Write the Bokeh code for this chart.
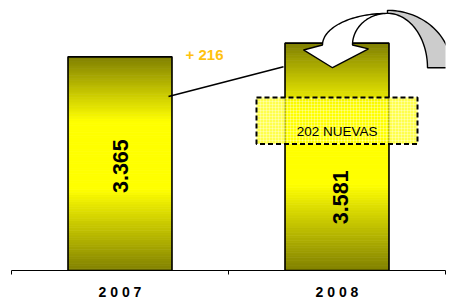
import numpy as np
from bokeh.plotting import figure
from bokeh.models import Range1d, FixedTicker
from bokeh.core.properties import value
from bokeh.embed import file_html
from bokeh.resources import INLINE

# ---- data ----
years = ["2007", "2008"]
year_labels = ["2 0 0 7", "2 0 0 8"]
totals = [3365, 3581]
total_labels = ["3.365", "3.581"]
increase_label = "+ 216"
new_label = "202 NUEVAS"

FONT = "Liberation Sans"
OLIVE = np.array([128, 128, 0])
YELLOW = np.array([255, 255, 0])

p = figure(width=451, height=302, output_backend="svg", toolbar_location=None,
           x_range=Range1d(0, 2), y_range=Range1d(0, 4253),
           y_axis_location=None, min_border_left=11, min_border_right=6,
           min_border_top=0, min_border_bottom=29, outline_line_color=None)
p.grid.visible = False
p.background_fill_color = "white"
p.border_fill_color = "white"

centers = [i + 0.5 for i in range(len(years))]
bw = 0.479

# gradient bars (dark - light - dark) from stacked strips
N = 90
L, R, B, T, C = [], [], [], [], []
for cx, v in zip(centers, totals):
    for i in range(N):
        t = (i + 0.5) / N
        if t < 0.38:
            f = t / 0.38
        elif t > 0.70:
            f = (1 - t) / 0.30
        else:
            f = 1.0
        f = max(0.0, min(1.0, f))
        col = OLIVE + (YELLOW - OLIVE) * f
        L.append(cx - bw / 2); R.append(cx + bw / 2)
        B.append(v * i / N); T.append(v * (i + 1) / N)
        C.append("#%02x%02x%02x" % tuple(int(round(c)) for c in col))
p.quad(left=L, right=R, bottom=B, top=T, fill_color=C, line_color=C, line_width=0.8)
p.quad(left=[c - bw / 2 for c in centers], right=[c + bw / 2 for c in centers],
       bottom=[0, 0], top=totals, fill_color=None, line_color="black", line_width=1.6)

# connector line between bars
p.segment(x0=[centers[0] + 0.2235], y0=[totals[0] * 0.8148],
          x1=[centers[1] - 0.2465], y1=[totals[1] * 0.8962],
          line_color="black", line_width=1.6)

# increase label
p.text(x=[0.8894], y=[3396], text=[increase_label], text_color="#ffc20e",
       text_font=value(FONT), text_font_style="bold", text_font_size="15px",
       text_align="center", text_baseline="middle")

# dashed "new" box
p.quad(left=[centers[1] - 0.371], right=[centers[1] + 0.371], bottom=[1994], top=[2726],
       fill_color="#ffff00", fill_alpha=0.7, line_color="black", line_width=2,
       line_dash="5 3", hatch_pattern="+", hatch_color="white", hatch_alpha=0.3,
       hatch_scale=3)
p.text(x=[1.5009], y=[2186], text=[new_label], text_color="black",
       text_font=value(FONT), text_font_size="13.5px",
       text_align="center", text_baseline="middle")

# bar value labels (rotated)
p.text(x=[0.5037, 1.5161], y=[1644, 1153], text=total_labels, angle=np.pi / 2,
       text_color="black", text_font=value(FONT), text_font_style="bold",
       text_font_size="21.5px", text_align="center", text_baseline="middle")

# curved arrow (gray back + white front)
xs, ys = 1.0 / 217, 1.0 / 0.06419  # data units per pixel
cxa = 1.7327
a = np.linspace(np.pi / 2, 0, 40)
gx = np.concatenate([cxa + 64 * xs * np.cos(a), cxa + 40 * xs * np.cos(a[::-1])])
gy = np.concatenate([3194 + 58 * ys * np.sin(a), 3194 + 55 * ys * np.sin(a[::-1])])
p.patch(gx, gy, fill_color="#cccccc", line_color="black", line_width=1.4)

b = np.linspace(np.pi / 2, np.pi, 40)
wx = list(cxa + 65 * xs * np.cos(b)) + [1.3456, 1.4793, 1.6452] + list(cxa + 35 * xs * np.cos(b[::-1]))
wy = list(3552 + 32 * ys * np.sin(b)) + [3474, 3194, 3490] + list(3552 + 32 * ys * np.sin(b[::-1]))
p.patch(wx, wy, fill_color="white", line_color="black", line_width=1.4)

# x axis: boundary ticks as minor ticks, year labels at centers
ax = p.xaxis[0]
ax.ticker = FixedTicker(ticks=centers, minor_ticks=[0, 1, 2])
ax.major_label_overrides = {c: lab for c, lab in zip(centers, year_labels)}
ax.major_tick_out = 0
ax.major_tick_in = 0
ax.minor_tick_out = 4
ax.minor_tick_in = 0
ax.minor_tick_line_color = "black"
ax.axis_line_color = "black"
ax.axis_line_width = 1
ax.major_label_standoff = 9
ax.major_label_text_font = FONT
ax.major_label_text_font_style = "bold"
ax.major_label_text_font_size = "14px"
ax.major_label_text_color = "black"

open("out.html", "w").write(file_html(p, INLINE))
